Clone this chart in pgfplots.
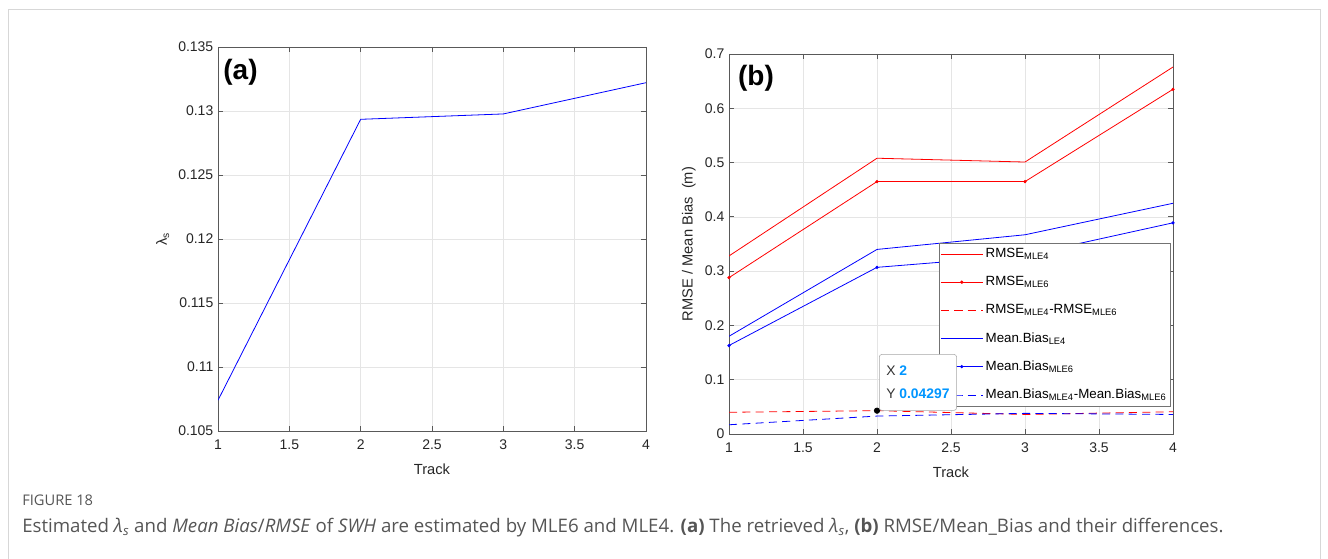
\documentclass[border=0pt]{standalone}
\usepackage{fontspec}
\setmainfont{Liberation Sans}
\newfontfamily\capfont{Open Sans}
\usepackage{pgfplots}
\pgfplotsset{compat=1.18}
\definecolor{tipblue}{RGB}{0,150,255}
\definecolor{capgray}{RGB}{85,85,85}
\definecolor{framegray}{RGB}{215,215,215}

\pgfplotsset{
  matlab/.style={
    scale only axis,
    xmin=1, xmax=4,
    xtick={1,1.5,2,2.5,3,3.5,4},
    grid=major,
    grid style={black!10, line width=0.4pt},
    axis line style={black!65, line width=0.6pt},
    tick style={black!65, line width=0.6pt},
    tick align=inside,
    major tick length=4pt,
    tick label style={font=\fontsize{10.5}{12}\selectfont, text=black!85},
    xticklabel style={yshift=-3pt},
    label style={font=\fontsize{11}{13}\selectfont, text=black!85},
    xlabel style={yshift=-4pt},
    /pgf/number format/assume math mode=true,
    /pgf/number format/precision=3,
    every axis plot/.append style={line width=0.6pt},
    legend image code/.code={\draw[mark repeat=2,mark phase=2,##1] plot coordinates {(0cm,0cm) (0.55cm,0cm) (1.1cm,0cm)};},
  }
}

\begin{document}
\begin{tikzpicture}
\path[use as bounding box] (0,0) rectangle (996pt,419.25pt);
\draw[framegray, line width=0.75pt] (6pt,-1pt) -- (6pt,411.75pt) -- (990pt,411.75pt) -- (990pt,-1pt);

% (a) retrieved lambda_s
\begin{axis}[matlab,
  at={(163.5pt,96pt)}, anchor=south west,
  width=321pt, height=288pt,
  ymin=0.105, ymax=0.135,
  ytick={0.105,0.11,0.115,0.12,0.125,0.13,0.135},
  yticklabels={0.105,0.11,0.115,0.12,0.125,0.13,0.135},
  xlabel={Track}, ylabel={λ\textsubscript{s}},
]
\addplot[blue] coordinates {(1,0.1074) (2,0.12935) (3,0.12977) (4,0.13221)};
\node[anchor=north west, inner sep=0pt, font=\fontsize{21}{22}\selectfont\bfseries] at (rel axis cs:0.012,0.969) {(a)};
\end{axis}

% (b) RMSE / Mean Bias
\begin{axis}[matlab,
  at={(546.75pt,93.75pt)}, anchor=south west,
  width=333pt, height=285pt,
  ymin=0, ymax=0.7,
  ytick={0,0.1,0.2,0.3,0.4,0.5,0.6,0.7},
  yticklabels={0,0.1,0.2,0.3,0.4,0.5,0.6,0.7},
  xlabel={Track}, ylabel={RMSE / Mean Bias\ \ (m)},
  legend cell align=left,
  legend style={at={(0.995,0.503)}, anchor=north east, draw=black!55, line width=0.6pt,
    font=\fontsize{10}{12}\selectfont, row sep=8.5pt, inner xsep=1pt},
]
% data tip point
\addplot[only marks, mark=*, mark size=2pt, black, forget plot] coordinates {(2,0.04297)};
\addplot[red] coordinates {(1,0.328) (2,0.508) (3,0.501) (4,0.676)};
\addlegendentry{RMSE\textsubscript{MLE4}}
\addplot[red, mark=*, mark size=0.9pt] coordinates {(1,0.288) (2,0.465) (3,0.465) (4,0.635)};
\addlegendentry{RMSE\textsubscript{MLE6}}
\addplot[red, dash pattern=on 6pt off 4pt] coordinates {(1,0.040) (2,0.04297) (3,0.036) (4,0.041)};
\addlegendentry{RMSE\textsubscript{MLE4}-RMSE\textsubscript{MLE6}}
\addplot[blue] coordinates {(1,0.180) (2,0.340) (3,0.367) (4,0.425)};
\addlegendentry{Mean\textsubscript{-}Bias\textsubscript{LE4}}
\addplot[blue, mark=*, mark size=0.9pt] coordinates {(1,0.163) (2,0.307) (3,0.329) (4,0.389)};
\addlegendentry{Mean\textsubscript{-}Bias\textsubscript{MLE6}}
\addplot[blue, dash pattern=on 6pt off 4pt] coordinates {(1,0.017) (2,0.033) (3,0.038) (4,0.036)};
\addlegendentry{Mean\textsubscript{-}Bias\textsubscript{MLE4}-Mean\textsubscript{-}Bias\textsubscript{MLE6}}
\coordinate (tip) at (axis cs:2,0.04297);
\node[anchor=north west, inner sep=0pt, font=\fontsize{21}{22}\selectfont\bfseries] at (rel axis cs:0.02,0.971) {(b)};
\end{axis}

% data tip
\node[draw=black!35, fill=white, rounded corners=2pt, anchor=south west, inner xsep=3.5pt,
  minimum width=58pt, minimum height=42pt, align=left, font=\fontsize{10.4}{17}\selectfont, text=black!80]
  at ([xshift=1.5pt]tip) {X \textcolor{tipblue}{\textbf{2}}\\Y \textcolor{tipblue}{\textbf{0.04297}}};

% caption
\node[anchor=base west, inner sep=0pt, font=\capfont\fontsize{11}{13}\selectfont, text=capgray] at (16.5pt,39.75pt) {FIGURE 18};
\node[anchor=base west, inner sep=0pt, font=\capfont\fontsize{14}{16}\selectfont, text=capgray] at (16.5pt,19.5pt)
  {Estimated \textit{λ\textsubscript{s}} and \textit{Mean Bias}/\textit{RMSE} of \textit{SWH} are estimated by MLE6 and MLE4. \textbf{(a)} The retrieved \textit{λ\textsubscript{s}}, \textbf{(b)} RMSE/Mean\_Bias and their differences.};
\end{tikzpicture}
\end{document}
